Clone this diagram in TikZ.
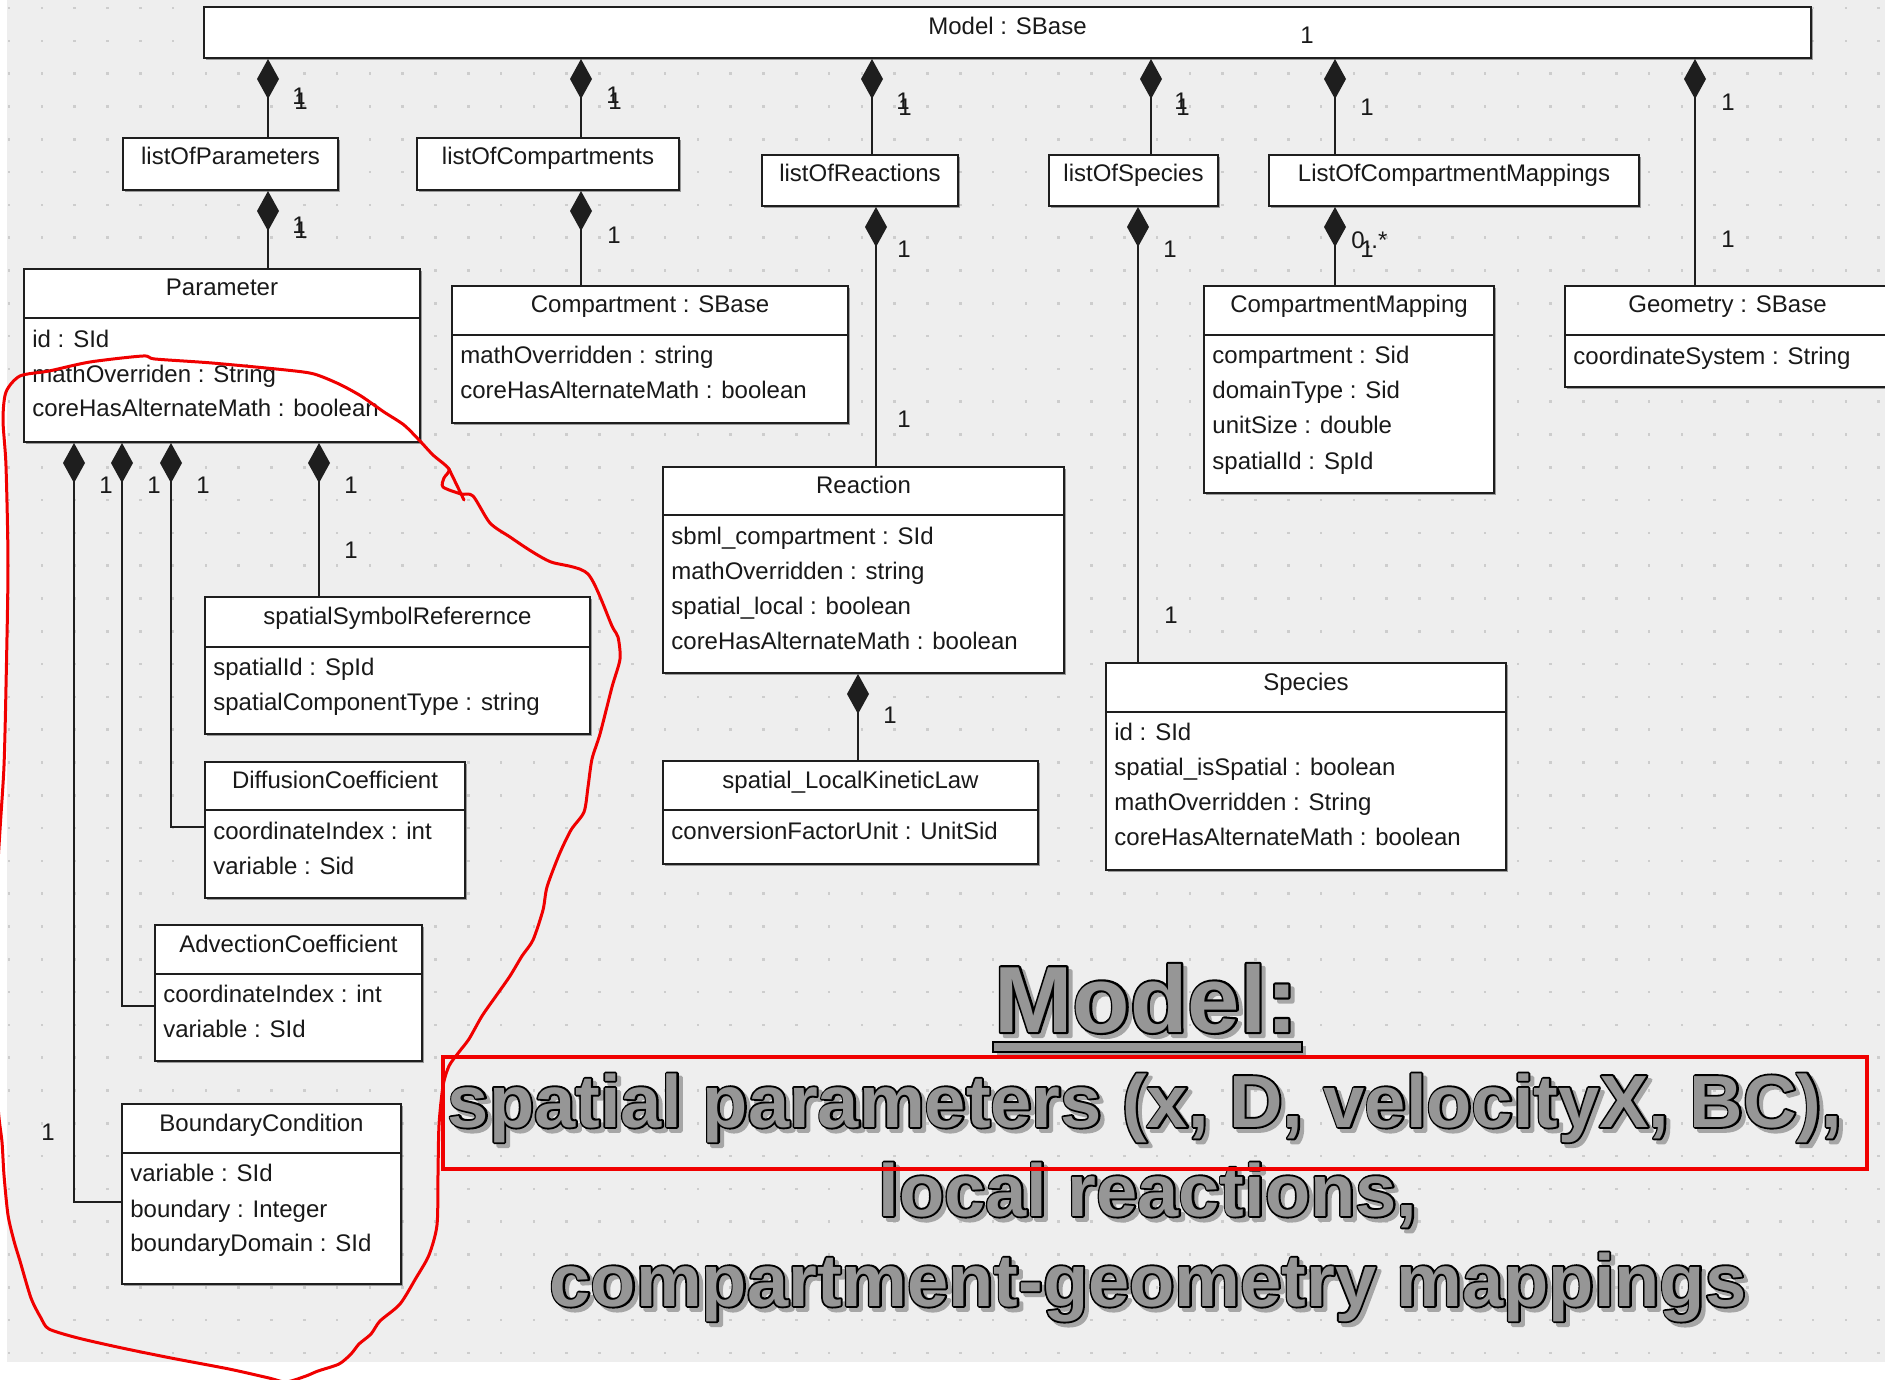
\documentclass[tikz,border=0pt]{standalone}
\usepackage{fontspec}
\setmainfont{Liberation Sans}
% heavy caption faces: plain fill, and an emboldened copy that serves as outline
\newfontfamily\capfill{Liberation Sans}
\newfontfamily\capstroke{Liberation Sans}[FakeBold=5]
\newfontfamily\headstroke{Liberation Sans}[FakeBold=4.5]
\usetikzlibrary{arrows.meta,fit,shadows}

\definecolor{bggray}{HTML}{EEEEEE}
\definecolor{dotgray}{HTML}{CDCDCD}
\definecolor{boxline}{HTML}{1E1E1E}
\definecolor{txtgray}{HTML}{969696}
\definecolor{penred}{HTML}{F00000}

\newcommand\umlfont{\fontsize{12}{14}\selectfont}
\newcommand\capsize{\fontsize{37}{44}\selectfont\bfseries}
\newcommand\headsize{\fontsize{47}{56}\selectfont\bfseries}

\tikzset{
  umlbox/.style={draw=boxline, line width=1pt, fill=white, inner sep=0pt,
    drop shadow={shadow xshift=1.2pt, shadow yshift=-1.2pt, opacity=0.35, fill=black}},
  divider/.style={draw=boxline, line width=1pt},
  ttl/.style={font=\umlfont, anchor=mid, inner sep=0pt, text=black!90, yshift=-1.2pt},
  att/.style={font=\umlfont, anchor=mid west, inner sep=0pt, text=black!90, yshift=-1.2pt},
  mult/.style={font=\umlfont, anchor=mid, inner sep=0pt, text=black!90},
  composition/.style={draw=boxline, line width=1pt, {Diamond[length=20pt,width=11pt]}-},
  bigtxt/.style={anchor=base, inner sep=0pt, line join=round},
}

% box with a title only
\newcommand\simplebox[5]{%
  \node[umlbox, fit={(#2) (#3)}] (#1) {};
  \node[ttl] (#1-title) at (#1.center |- 0,#4) {#5};}
% class box with title and attribute compartments
\newcommand\classbox[6]{%
  \node[umlbox, fit={(#2) (#3)}] (#1) {};
  \draw[divider] (#1.west |- 0,#4) -- (#1.east |- 0,#4);
  \node[ttl] (#1-title) at (#1.center |- 0,#5) {#6};}
\newcommand\attr[4]{\node[att] (#1) at (#2,#3) {#4};}
% outlined caption line with a drop shadow: name, x, y, text
\newcommand\capline[4]{%
  \node[bigtxt, text=black!35, font=\capstroke\capsize] (#1-shadow) at (#2+4,#3+4) {#4};
  \node[bigtxt, text=black, font=\capstroke\capsize] (#1-outline) at (#2,#3) {#4};
  \node[bigtxt, text=txtgray, font=\capfill\capsize] (#1) at (#2,#3) {#4};}

\begin{document}
\begin{tikzpicture}[x=0.5pt,y=-0.5pt]
\useasboundingbox (0,0) rectangle (1885,1380);
\clip (0,0) rectangle (1885,1380);

% canvas and dotted grid
\fill[white] (0,0) rectangle (1885,1380);
\fill[bggray] (7,0) rectangle (1885,1362);
\foreach \i in {0,...,57}{\foreach \j in {0,...,41}{%
  \fill[dotgray] ({7.8+32.8*\i},{6.8+32.8*\j}) rectangle ++(2.6,2.6);}}

% top level
\simplebox{model}{204,7}{1811,58}{27}{Model : SBase}

% list containers
\simplebox{lp}{123,138}{338,190}{157}{listOfParameters}
\simplebox{lc}{417,138}{679,190}{157}{listOfCompartments}
\simplebox{lr}{762,155}{958,206}{174}{listOfReactions}
\simplebox{ls}{1049,155}{1218,206}{174}{listOfSpecies}
\simplebox{locm}{1269,155}{1639,206}{174}{ListOfCompartmentMappings}

% classes
\classbox{param}{24,269}{420,442}{318}{288}{Parameter}
\attr{param-a1}{32}{340}{id : SId}
\attr{param-a2}{32}{375}{mathOverriden : String}
\attr{param-a3}{32}{409}{coreHasAlternateMath : boolean}

\classbox{comp}{452,286}{848,423}{335}{305}{Compartment : SBase}
\attr{comp-a1}{460}{356}{mathOverridden : string}
\attr{comp-a2}{460}{391}{coreHasAlternateMath : boolean}

\classbox{cm}{1204,286}{1494,493}{335}{305}{CompartmentMapping}
\attr{cm-a1}{1212}{356}{compartment : Sid}
\attr{cm-a2}{1212}{391}{domainType : Sid}
\attr{cm-a3}{1212}{426}{unitSize : double}
\attr{cm-a4}{1212}{462}{spatialId : SpId}

\classbox{geo}{1565,286}{1890,387}{335}{305}{Geometry : SBase}
\attr{geo-a1}{1573}{357}{coordinateSystem : String}

\classbox{reac}{663,467}{1064,673}{515}{486}{Reaction}
\attr{reac-a1}{671}{537}{sbml\_compartment : SId}
\attr{reac-a2}{671}{572}{mathOverridden : string}
\attr{reac-a3}{671}{607}{spatial\_local : boolean}
\attr{reac-a4}{671}{642}{coreHasAlternateMath : boolean}

\classbox{lkl}{663,761}{1038,864}{810}{781}{spatial\_LocalKineticLaw}
\attr{lkl-a1}{671}{832}{conversionFactorUnit : UnitSid}

\classbox{spec}{1106,663}{1506,870}{712}{683}{Species}
\attr{spec-a1}{1114}{733}{id : SId}
\attr{spec-a2}{1114}{768}{spatial\_isSpatial : boolean}
\attr{spec-a3}{1114}{803}{mathOverridden : String}
\attr{spec-a4}{1114}{838}{coreHasAlternateMath : boolean}

\classbox{ssr}{205,597}{590,734}{647}{617}{spatialSymbolReferernce}
\attr{ssr-a1}{213}{668}{spatialId : SpId}
\attr{ssr-a2}{213}{703}{spatialComponentType : string}

\classbox{diff}{205,762}{465,898}{810}{781}{DiffusionCoefficient}
\attr{diff-a1}{213}{832}{coordinateIndex : int}
\attr{diff-a2}{213}{867}{variable : Sid}

\classbox{adv}{155,925}{422,1061}{974}{945}{AdvectionCoefficient}
\attr{adv-a1}{163}{995}{coordinateIndex : int}
\attr{adv-a2}{163}{1030}{variable : SId}

\classbox{bc}{122,1104}{401,1284}{1153}{1124}{BoundaryCondition}
\attr{bc-a1}{130}{1174}{variable : SId}
\attr{bc-a2}{130}{1210}{boundary : Integer}
\attr{bc-a3}{130}{1244}{boundaryDomain : SId}

% compositions
\draw[composition] (268,0 |- model.south) -- (268,0 |- lp.north);
\draw[composition] (581,0 |- model.south) -- (581,0 |- lc.north);
\draw[composition] (872,0 |- model.south) -- (872,0 |- lr.north);
\draw[composition] (1151,0 |- model.south) -- (1151,0 |- ls.north);
\draw[composition] (1335,0 |- model.south) -- (1335,0 |- locm.north);
\draw[composition] (1695,0 |- model.south) -- (1695,0 |- geo.north);

\draw[composition] (268,0 |- lp.south) -- (268,0 |- param.north);
\draw[composition] (581,0 |- lc.south) -- (581,0 |- comp.north);
\draw[composition] (876,0 |- lr.south) -- (876,0 |- reac.north);
\draw[composition] (1138,0 |- ls.south) -- (1138,0 |- spec.north);
\draw[composition] (1335,0 |- locm.south) -- (1335,0 |- cm.north);
\draw[composition] (858,0 |- reac.south) -- (858,0 |- lkl.north);

\draw[composition] (319,0 |- param.south) -- (319,0 |- ssr.north);
\draw[composition] (171,0 |- param.south) |- (diff.west |- 0,827);
\draw[composition] (122,0 |- param.south) |- (adv.west |- 0,1006);
\draw[composition] (74,0 |- param.south) |- (bc.west |- 0,1202);

% multiplicities
\node[mult] (m-model) at (1307,38) {1};
\node[mult] (m-lp-a) at (299,99) {1};
\node[mult] (m-lp-b) at (301,104) {1};
\node[mult] (m-pa-a) at (299,228) {1};
\node[mult] (m-pa-b) at (301,233) {1};
\node[mult] (m-lc-a) at (613,98) {1};
\node[mult] (m-lc-b) at (615,104) {1};
\node[mult] (m-co) at (614,238) {1};
\node[mult] (m-lr-a) at (903,104) {1};
\node[mult] (m-lr-b) at (905,110) {1};
\node[mult] (m-re-a) at (904,252) {1};
\node[mult] (m-re-b) at (904,422) {1};
\node[mult] (m-ls-a) at (1181,104) {1};
\node[mult] (m-ls-b) at (1183,110) {1};
\node[mult] (m-sp-a) at (1170,252) {1};
\node[mult] (m-sp-b) at (1171,618) {1};
\node[mult] (m-locm) at (1367,110) {1};
\node[mult, anchor=mid west] (m-cm-a) at (1351,243) {0..*};
\node[mult] (m-cm-b) at (1367,252) {1};
\node[mult] (m-geo-a) at (1728,105) {1};
\node[mult] (m-geo-b) at (1728,242) {1};
\node[mult] (m-lkl) at (890,718) {1};
\node[mult] (m-bc) at (106,488) {1};
\node[mult] (m-adv) at (154,488) {1};
\node[mult] (m-diff) at (203,488) {1};
\node[mult] (m-ssr-a) at (351,488) {1};
\node[mult] (m-ssr-b) at (351,553) {1};
\node[mult] (m-bc-b) at (48,1135) {1};

% headline with underline bar
\node[bigtxt, text=black!35, font=\headstroke\headsize] (head-shadow) at (1150,1036) {Model:};
\node[fit={(997,1046) (1306,1056)}, inner sep=0pt, fill=black!35] (headbar-shadow) {};
\node[bigtxt, text=black, font=\headstroke\headsize] (head-outline) at (1146,1032) {Model:};
\node[bigtxt, text=txtgray, font=\capfill\headsize] (head) at (1146,1032) {Model:};
\node[fit={(993,1042) (1302,1052)}, inner sep=0pt, fill=txtgray, draw=black, line width=0.9pt] (headbar) {};

% caption lines
\capline{cap1}{1145}{1127}{spatial parameters (x, D, velocityX, BC),}
\capline{cap2}{1148}{1216}{local reactions,}
\capline{cap3}{1148}{1306}{compartment-geometry mappings}

% red highlight frame
\node[fit={(443,1057) (1867,1169)}, inner sep=0pt, draw=penred, line width=2.2pt] (frame) {};

% red freehand loop around the spatial parameter classes
\draw[penred, line width=1.5pt, line join=round, line cap=round]
  plot[smooth cycle, tension=0.45] coordinates {
  (0,830) (4,766) (6,687) (8,566) (6,466) (3,420) (6,392) (20,376) (49,371) (90,362)
  (143,356) (155,359) (212,363) (286,370) (314,374) (339,384) (361,396) (384,412)
  (404,425) (420,441) (433,455) (449,469) (444,478) (443,487) (461,494) (473,496)
  (490,523) (510,537) (531,551) (551,562) (588,574) (612,626) (618,637) (620,659)
  (612,687) (600,734) (592,759) (588,787) (584,812) (571,830) (559,855) (547,887)
  (543,910) (533,940) (522,956) (510,976) (496,996) (482,1016) (469,1039) (459,1052)
  (449,1066) (443,1086) (439,1125) (438,1175) (437,1225) (429,1255) (416,1278)
  (400,1304) (380,1321) (371,1334) (359,1344) (351,1354) (339,1364) (318,1371)
  (306,1376) (286,1382) (269,1378) (229,1369) (171,1358) (122,1348) (78,1338)
  (49,1329) (41,1318) (31,1298) (20,1261) (14,1241) (8,1215) (4,1175) (2,1142)
  (-2,1105) (-6,1000) (-4,900)};
\draw[penred, line width=1.5pt, line cap=round] (449,469) -- (464,500);
\end{tikzpicture}
\end{document}
